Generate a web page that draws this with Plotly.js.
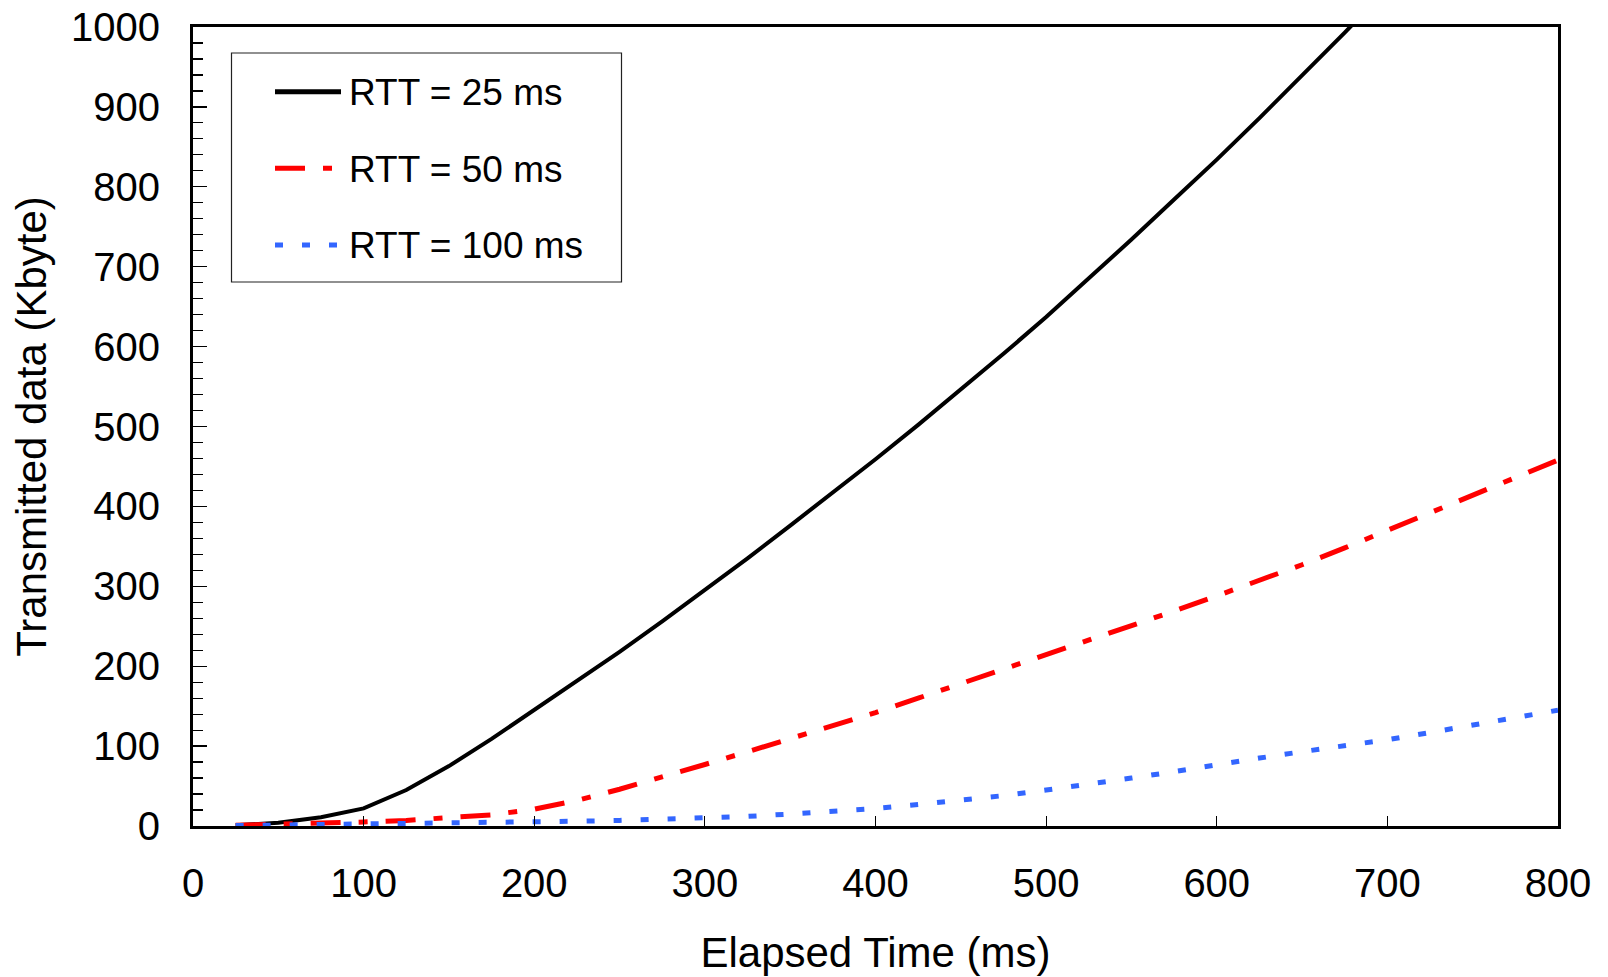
<!DOCTYPE html>
<html>
<head>
<meta charset="utf-8">
<script src="https://cdn.plot.ly/plotly-3.0.1.min.js"></script>
<style>
  html, body { margin: 0; padding: 0; background: #fff; }
  #chart { width: 1608px; height: 977px; }
</style>
</head>
<body>
<div id="chart"></div>
<script>
// Elapsed time (ms)
const timeRTT25 = [25, 50, 75, 100, 125, 150, 175, 200, 225, 250, 275, 300, 325, 350, 375, 400, 425, 450, 475, 500, 525, 550, 575, 600, 625, 650, 675, 700];
const dataRTT25 = [1, 4, 11, 22, 45, 75, 109, 145, 181, 218, 256, 295, 335, 376, 417, 459, 502, 546, 591, 637, 685, 734, 784, 834, 886, 939, 993, 1048];

const timeRTT50 = [25, 50, 75, 100, 125, 150, 175, 200, 225, 250, 275, 300, 325, 350, 375, 400, 425, 450, 475, 500, 525, 550, 575, 600, 625, 650, 675, 700, 725, 750, 775, 800];
const dataRTT50 = [1, 2, 3, 5, 7, 10, 14, 21, 32, 46, 61, 77, 93, 109, 125, 142, 160, 178, 196, 215, 233, 251, 269, 288, 307, 327, 348, 370, 391, 413, 435, 458];

const timeRTT100 = [25, 50, 75, 100, 125, 150, 175, 200, 225, 250, 275, 300, 325, 350, 375, 400, 425, 450, 475, 500, 525, 550, 575, 600, 625, 650, 675, 700, 725, 750, 775, 800];
const dataRTT100 = [0.5, 1, 1.5, 2, 2.5, 3, 4, 5, 6, 7, 8.5, 10, 12, 15, 18, 22, 27, 32, 38, 45, 52, 60, 68, 77, 85, 93, 100, 108, 117, 126, 135, 145];

const seriesNames = ["RTT = 25 ms", "RTT = 50 ms", "RTT = 100 ms"];
const xTitle = "Elapsed Time (ms)";
const yTitle = "Transmitted data (Kbyte)";

const FONT = '"Liberation Sans", Arial, sans-serif';
const colors = ["#000000", "#ff0000", "#3366ff"];
const dashes = ["solid", "30px,18px,9px,18px", "8px,19px"];
const widths = [4, 5, 5];

const traces = [
  {x: timeRTT25, y: dataRTT25, name: seriesNames[0]},
  {x: timeRTT50, y: dataRTT50, name: seriesNames[1]},
  {x: timeRTT100, y: dataRTT100, name: seriesNames[2]}
].map((t, i) => Object.assign(t, {
  type: "scatter", mode: "lines",
  line: {color: colors[i], width: widths[i], dash: dashes[i]},
  showlegend: false, hoverinfo: "x+y+name"
}));

// Custom legend (paper coordinates)
const L = 193, R = 1558, T = 27, B = 826;
const px = v => (v - L) / (R - L);
const py = v => (B - v) / (B - T);
const rowsY = [91.7, 168.3, 245];
const shapes = [{
  type: "rect", xref: "paper", yref: "paper",
  x0: px(231.5), x1: px(621.5), y0: py(282), y1: py(53),
  line: {color: "#222", width: 1.2}, fillcolor: "#fff", layer: "above"
}];
const annotations = [];
seriesNames.forEach((n, i) => {
  shapes.push({
    type: "line", xref: "paper", yref: "paper",
    x0: px(275), x1: px(341), y0: py(rowsY[i]), y1: py(rowsY[i]),
    line: {color: colors[i], width: 5, dash: dashes[i]}, layer: "above"
  });
  annotations.push({
    xref: "paper", yref: "paper", x: px(347), y: py(rowsY[i] + 1),
    xanchor: "left", yanchor: "middle", showarrow: false,
    text: n, font: {family: FONT, size: 37, color: "#000"}
  });
});

const layout = {
  width: 1608, height: 977,
  margin: {l: L, r: 1608 - R, t: T, b: 977 - B},
  paper_bgcolor: "#fff", plot_bgcolor: "#fff",
  font: {family: FONT, color: "#000"},
  showlegend: false,
  xaxis: {
    range: [0, 800], dtick: 100, tick0: 0,
    showgrid: false, zeroline: false,
    showline: true, linecolor: "#000", linewidth: 3, mirror: true,
    ticks: "inside", ticklen: 10, tickwidth: 1.2, tickcolor: "#000",
    tickfont: {family: FONT, size: 40, color: "#000"},
    ticklabelstandoff: 20,
    title: {text: xTitle, font: {family: FONT, size: 42, color: "#000"}, standoff: 34}
  },
  yaxis: {
    range: [0, 1000], dtick: 100, tick0: 0,
    showgrid: false, zeroline: false,
    showline: true, linecolor: "#000", linewidth: 3, mirror: true,
    ticks: "inside", ticklen: 14, tickwidth: 1.2, tickcolor: "#000",
    minor: {dtick: 20, ticks: "inside", ticklen: 10, tickwidth: 1.2, tickcolor: "#000", showgrid: false},
    tickfont: {family: FONT, size: 40, color: "#000"},
    ticklabelstandoff: 22,
    title: {text: yTitle, font: {family: FONT, size: 42, color: "#000"}, standoff: 12}
  },
  shapes: shapes,
  annotations: annotations
};

Plotly.newPlot("chart", traces, layout, {displayModeBar: false, staticPlot: true});
</script>
</body>
</html>
